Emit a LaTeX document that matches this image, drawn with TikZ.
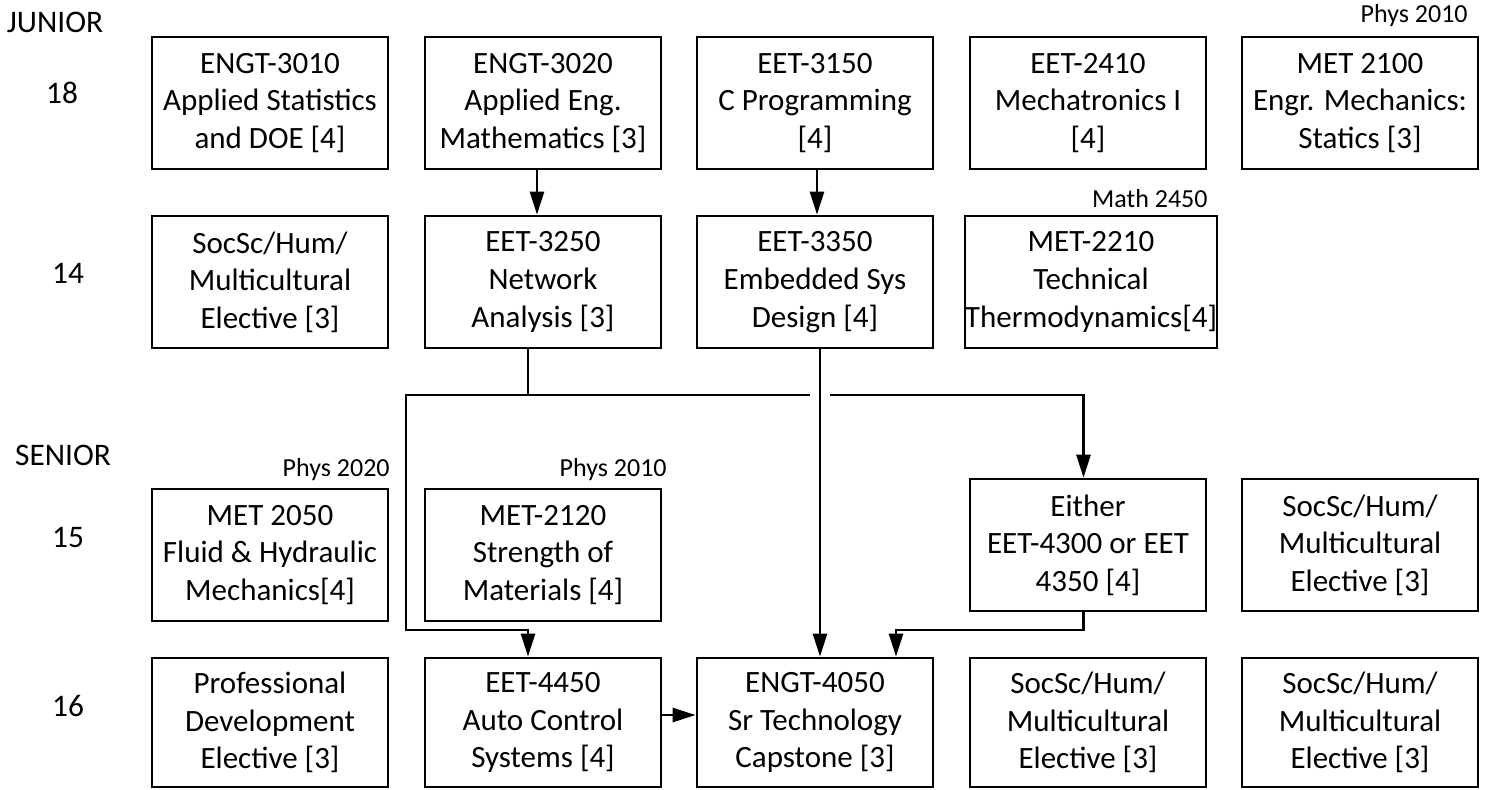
\documentclass[tikz,border=0pt]{standalone}
\usepackage{fontspec}
\setmainfont{Carlito}
\usetikzlibrary{arrows.meta}

\begin{document}
\begin{tikzpicture}[x=0.5pt, y=-0.5pt,
    coursenode/.style={rectangle, draw=black, line width=1.35pt, minimum width=118pt, minimum height=66pt, inner sep=0pt, align=center, font=\fontsize{15.5pt}{18.8pt}\selectfont},
    yearnode/.style={inner sep=0pt, font=\fontsize{15.7pt}{18pt}\selectfont},
    prereqnode/.style={anchor=east, inner sep=0pt, font=\fontsize{13pt}{15pt}\selectfont},
    link/.style={line width=1.35pt},
    linkarrow/.style={line width=1.35pt, -{Triangle[length=11.5pt,width=7pt]}},
    ]
    \useasboundingbox (0,0) rectangle (1489,789);
    %Nodes
    \node[yearnode]   (junior)  at (55,22)   {JUNIOR};
    \node[yearnode]   (cr18)    at (62,93)   {18};
    \node[yearnode]   (cr14)    at (68,273)  {14};
    \node[yearnode]   (senior)  at (63,455)  {SENIOR};
    \node[yearnode]   (cr15)    at (68,537)  {15};
    \node[yearnode]   (cr16)    at (68,706)  {16};

    \node[coursenode] (n3010)   at (270,103)  {ENGT-3010\\Applied Statistics\\and DOE [4]};
    \node[coursenode] (n3020)   at (543,103)  {ENGT-3020\\Applied Eng.\\Mathematics [3]};
    \node[coursenode] (n3150)   at (815,103)  {EET-3150\\C Programming\\{[4]}};
    \node[coursenode] (n2410)   at (1088,103) {EET-2410\\Mechatronics I\\{[4]}};
    \node[coursenode] (n2100)   at (1360,103) {MET 2100\\Engr. Mechanics:\\Statics [3]};

    \node[coursenode] (soc1)    at (270,282)  {SocSc/Hum/\\Multicultural\\Elective [3]};
    \node[coursenode] (n3250)   at (543,282)  {EET-3250\\Network\\Analysis [3]};
    \node[coursenode] (n3350)   at (815,282)  {EET-3350\\Embedded Sys\\Design [4]};
    \node[coursenode, minimum width=125pt] (n2210) at (1091,282) {MET-2210\\Technical\\Thermodynamics[4]};

    \node[coursenode] (n2050)   at (270,555)  {MET 2050\\Fluid \& Hydraulic\\Mechanics[4]};
    \node[coursenode] (n2120)   at (543,555)  {MET-2120\\Strength of\\Materials [4]};
    \node[coursenode] (either)  at (1088,545) {Either\\EET-4300 or EET\\4350 [4]};
    \node[coursenode] (soc2)    at (1360,545) {SocSc/Hum/\\Multicultural\\Elective [3]};

    \node[coursenode, minimum height=64.5pt] (prof)  at (270,722.5)  {Professional\\Development\\Elective [3]};
    \node[coursenode, minimum height=64.5pt] (n4450) at (543,722.5)  {EET-4450\\Auto Control\\Systems [4]};
    \node[coursenode, minimum height=64.5pt] (n4050) at (815,722.5)  {ENGT-4050\\Sr Technology\\Capstone [3]};
    \node[coursenode, minimum height=64.5pt] (soc3)  at (1088,722.5) {SocSc/Hum/\\Multicultural\\Elective [3]};
    \node[coursenode, minimum height=64.5pt] (soc4)  at (1360,722.5) {SocSc/Hum/\\Multicultural\\Elective [3]};

    \node[prereqnode] (pre2100) at (1468,16)  {Phys 2010};
    \node[prereqnode] (pre2210) at (1208,199) {Math 2450};
    \node[prereqnode] (pre2050) at (390,470)  {Phys 2020};
    \node[prereqnode] (pre2120) at (667,470)  {Phys 2010};

    %Connectors
    \coordinate (busL)  at (406,395);
    \coordinate (gapL)  at (810,395);
    \coordinate (gapR)  at (830,395);
    \coordinate (loopL) at (406,630);
    \coordinate (joinR) at (896,630);

    \draw[linkarrow] ([xshift=-3pt]n3020.south) -- ([xshift=-3pt]n3250.north);
    \draw[linkarrow] ([xshift=1pt]n3150.south) -- ([xshift=1pt]n3350.north);
    \draw[link] ([xshift=-7.5pt]n3250.south) |- (gapL);
    \draw[linkarrow] ([xshift=-7.5pt]n3250.south) |- (busL) -- (loopL) -| ([xshift=-7.5pt]n4450.north);
    \draw[linkarrow] (gapR) -| ([xshift=-2.25pt]either.north);
    \draw[linkarrow] ([xshift=2.5pt]n3350.south) -- ([xshift=2.5pt]n4050.north);
    \draw[linkarrow] ([xshift=-2.25pt]either.south) |- (joinR) -- (joinR |- n4050.north);
    \draw[linkarrow] ([yshift=3.75pt]n4450.east) -- ([yshift=3.75pt]n4050.west);
\end{tikzpicture}
\end{document}
